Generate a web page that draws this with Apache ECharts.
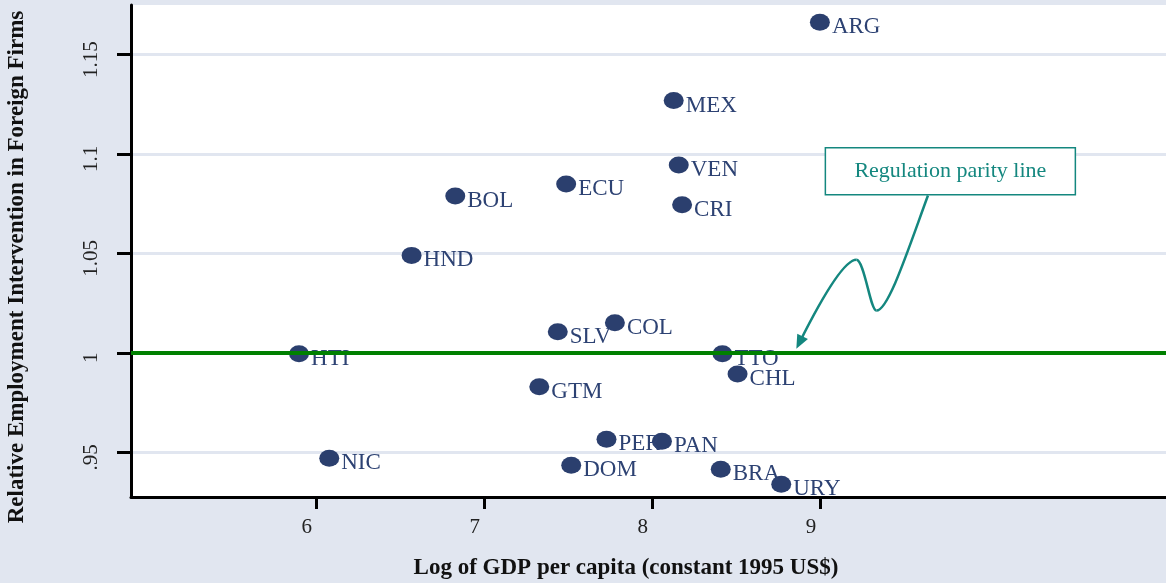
<!DOCTYPE html>
<html>
<head>
<meta charset="utf-8">
<script src="https://cdn.jsdelivr.net/npm/echarts@6/dist/echarts.min.js"></script>
<style>html,body{margin:0;padding:0;background:#e1e6f0;}#c{width:1166px;height:583px;}</style>
</head>
<body>
<div id="c"></div>
<script>
const countries = ['ARG','MEX','VEN','ECU','CRI','BOL','HND','COL','SLV','HTI','TTO','CHL','GTM','PER','PAN','NIC','DOM','BRA','URY'];
const logGdp = [9.00, 8.13, 8.16, 7.49, 8.18, 6.83, 6.57, 7.78, 7.44, 5.90, 8.42, 8.51, 7.33, 7.73, 8.06, 6.08, 7.52, 8.41, 8.77];
const relEmp = [1.1662, 1.1269, 1.0945, 1.0849, 1.0744, 1.0789, 1.049, 1.0151, 1.0106, 0.9995, 0.9995, 0.9894, 0.9829, 0.9565, 0.9555, 0.947, 0.9435, 0.9415, 0.9339];
const xTicks = [6, 7, 8, 9];
const yTicks = [0.95, 1, 1.05, 1.1, 1.15];
const yTickLabels = ['.95', '1', '1.05', '1.1', '1.15'];
const parityValue = 1.001;
const annotationText = 'Regulation parity line';
const arrowTip = [8.86, 1.002];

const SERIF = '"Liberation Serif", "Times New Roman", serif';
const TEAL = '#14877f';
const NAVY = '#2b3f6e';

const chart = echarts.init(document.getElementById('c'), null, {renderer: 'canvas'});
const points = countries.map((c, i) => ({name: c, value: [logGdp[i], relEmp[i]]}));

const titles = [
  {type: 'text', x: 626, y: 568, style: {text: 'Log of GDP per capita (constant 1995 US$)', font: 'bold 23px ' + SERIF, fill: '#111', align: 'center', verticalAlign: 'middle'}},
  {type: 'text', x: 17, y: 267, rotation: Math.PI / 2, style: {text: 'Relative Employment Intervention in Foreign Firms', font: 'bold 23px ' + SERIF, fill: '#111', align: 'center', verticalAlign: 'middle'}}
];

chart.setOption({
  backgroundColor: '#e1e6f0',
  animation: false,
  grid: {left: 131, top: 5, right: 0, bottom: 86, show: true, backgroundColor: '#ffffff', borderWidth: 0},
  xAxis: {
    type: 'value', min: 4.9, max: 11.06,
    axisLine: {show: true, lineStyle: {color: '#000', width: 3}},
    axisTick: {show: true, length: 12, lineStyle: {color: '#000', width: 3}, customValues: xTicks},
    axisLabel: {customValues: xTicks, color: '#222', fontFamily: SERIF, fontSize: 21, margin: 20, padding: [0, 18, 0, 0]},
    splitLine: {show: false}
  },
  yAxis: {
    type: 'value', min: 0.9275, max: 1.1749,
    axisLine: {show: true, lineStyle: {color: '#000', width: 3}},
    axisTick: {show: true, length: 14, lineStyle: {color: '#000', width: 3}, customValues: yTicks},
    axisLabel: {customValues: yTicks, rotate: 90, color: '#222', fontFamily: SERIF, fontSize: 21, margin: 29, padding: [0, 10, 0, 0],
      formatter: v => { const i = yTicks.findIndex(t => Math.abs(t - v) < 1e-9); return i >= 0 ? yTickLabels[i] : ''; }},
    splitLine: {show: true, lineStyle: {color: '#e1e6f0', width: 3}}
  },
  series: [{
    type: 'scatter',
    data: points,
    symbol: 'circle',
    symbolSize: [20, 17],
    itemStyle: {color: NAVY, opacity: 1},
    label: {show: true, position: 'right', distance: 2, offset: [0, 5], formatter: '{b}', color: '#2d4273', fontFamily: SERIF, fontSize: 23},
    markLine: {
      silent: true, symbol: 'none', animation: false,
      label: {show: false},
      lineStyle: {color: '#008000', width: 4, type: 'solid'},
      data: [{yAxis: parityValue}]
    },
    z: 3
  }],
  graphic: titles
});

const tip = chart.convertToPixel({gridIndex: 0}, arrowTip);
const curve = (x1, y1, c1x, c1y, c2x, c2y, x2, y2) => ({
  type: 'bezierCurve',
  shape: {x1: x1, y1: y1, cpx1: c1x, cpy1: c1y, cpx2: c2x, cpy2: c2y, x2: x2, y2: y2},
  style: {fill: null, stroke: TEAL, lineWidth: 2.5}
});
chart.setOption({
  graphic: titles.concat([
    {type: 'group', x: tip[0], y: tip[1], z: 10, children: [
      curve(131.6, -153.3, 112, -100, 92, -38, 80, -38.3),
      curve(80, -38.3, 74, -38, 68, -89, 60, -89),
      curve(60, -89, 48, -89, 26, -52, 3, -6),
      {type: 'polygon', shape: {points: [[0, 0], [11.6, -9.8], [0.9, -15.2]]}, style: {fill: TEAL}},
      {type: 'rect', shape: {x: 29, y: -201, width: 250, height: 47}, style: {fill: '#ffffff', stroke: TEAL, lineWidth: 1.5}},
      {type: 'text', x: 154, y: -178, style: {text: annotationText, font: '22px ' + SERIF, fill: TEAL, align: 'center', verticalAlign: 'middle'}}
    ]}
  ])
}, {replaceMerge: ['graphic']});
</script>
</body>
</html>
